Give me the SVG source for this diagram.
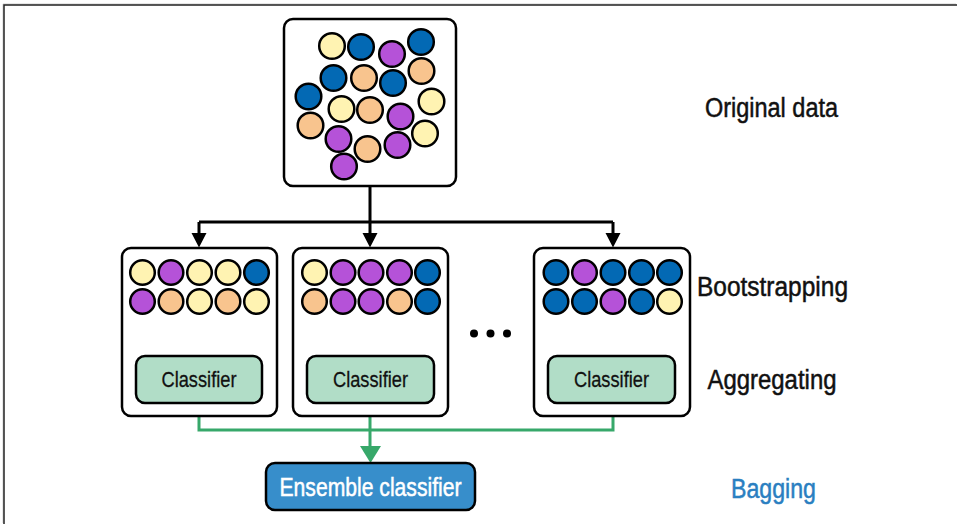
<svg xmlns="http://www.w3.org/2000/svg" width="957" height="524" viewBox="0 0 957 524">
<style>
.box{fill:#fff;stroke:#000;stroke-width:2.5}
.cls{fill:#b1ddc7;stroke:#000;stroke-width:2.5}
.c{stroke:#000;stroke-width:2.5}
.y{fill:#fff3b2}.b{fill:#0369b4}.p{fill:#b552d8}.o{fill:#f8c48e}
.lbl{font-family:"Liberation Sans",Arial,sans-serif;font-size:27px;fill:#111;stroke:#111;stroke-width:0.5}
.ct{font-family:"Liberation Sans",Arial,sans-serif;font-size:22px;fill:#111;stroke:#111;stroke-width:0.3;text-anchor:middle}
.blk{fill:none;stroke:#000;stroke-width:3}
.grn{fill:none;stroke:#37a86a;stroke-width:3}
</style>
<path d="M4,524 V5 H957" fill="none" stroke="#cfcfcf" stroke-width="1" transform="translate(-1,-1)"/>
<path d="M4,524 V5 H957" fill="none" stroke="#222" stroke-width="1.5"/>

<g id="connectors">
<path class="blk" d="M370,186 V222 M199,222 H613 M199,222 V236 M370,222 V236 M613,222 V236"/>
<path d="M191.5,233 L206.5,233 L199,247.5 z M362.5,233 L377.5,233 L370,247.5 z M605.5,233 L620.5,233 L613,247.5 z" fill="#000"/>
<path class="grn" d="M199,403 V430 H613 V403 M370,403 V448"/>
<path d="M360,446 L381,446 L370.5,463 z" fill="#37a86a"/>
</g>

<g id="original-data">
<rect class="box" x="284" y="19" width="172" height="167" rx="9"/>
<g class="c">
<circle class="y" cx="332" cy="46" r="12.8"/>
<circle class="b" cx="361" cy="47" r="12.8"/>
<circle class="p" cx="392" cy="54" r="12.8"/>
<circle class="b" cx="421" cy="42" r="12.8"/>
<circle class="b" cx="333.5" cy="78" r="12.8"/>
<circle class="o" cx="364" cy="78" r="12.8"/>
<circle class="b" cx="393" cy="83" r="12.8"/>
<circle class="o" cx="421.5" cy="71" r="12.8"/>
<circle class="b" cx="308.5" cy="96.5" r="12.8"/>
<circle class="y" cx="341.5" cy="109" r="12.8"/>
<circle class="o" cx="370" cy="110" r="12.8"/>
<circle class="y" cx="431.5" cy="101.5" r="12.8"/>
<circle class="o" cx="310.5" cy="125.5" r="12.8"/>
<circle class="p" cx="400.5" cy="116.5" r="12.8"/>
<circle class="p" cx="338.5" cy="139" r="12.8"/>
<circle class="o" cx="367.5" cy="149" r="12.8"/>
<circle class="p" cx="397.5" cy="145" r="12.8"/>
<circle class="y" cx="425" cy="133.5" r="12.8"/>
<circle class="p" cx="344" cy="166.5" r="12.8"/>
</g>
</g>

<g id="bag1">
<rect class="box" x="122" y="248" width="155" height="168" rx="9"/>
<g class="c">
<circle class="y" cx="142.5" cy="272.5" r="12.3"/>
<circle class="p" cx="171" cy="272.5" r="12.3"/>
<circle class="y" cx="199.5" cy="272.5" r="12.3"/>
<circle class="y" cx="228" cy="272.5" r="12.3"/>
<circle class="b" cx="256.5" cy="272.5" r="12.3"/>
<circle class="p" cx="142.5" cy="301.5" r="12.3"/>
<circle class="o" cx="171" cy="301.5" r="12.3"/>
<circle class="y" cx="199.5" cy="301.5" r="12.3"/>
<circle class="o" cx="228" cy="301.5" r="12.3"/>
<circle class="y" cx="256.5" cy="301.5" r="12.3"/>
</g>
<rect class="cls" x="136" y="356" width="126" height="47" rx="9"/>
<text class="ct" x="199" y="387" textLength="75" lengthAdjust="spacingAndGlyphs">Classifier</text>
</g>

<g id="bag2">
<rect class="box" x="293" y="248" width="155" height="168" rx="9"/>
<g class="c">
<circle class="y" cx="314.5" cy="272.5" r="12.3"/>
<circle class="p" cx="343" cy="272.5" r="12.3"/>
<circle class="p" cx="371" cy="272.5" r="12.3"/>
<circle class="p" cx="399.5" cy="272.5" r="12.3"/>
<circle class="b" cx="427.5" cy="272.5" r="12.3"/>
<circle class="o" cx="314.5" cy="301.5" r="12.3"/>
<circle class="p" cx="343" cy="301.5" r="12.3"/>
<circle class="p" cx="371" cy="301.5" r="12.3"/>
<circle class="o" cx="399.5" cy="301.5" r="12.3"/>
<circle class="b" cx="427.5" cy="301.5" r="12.3"/>
</g>
<rect class="cls" x="307" y="356" width="127" height="47" rx="9"/>
<text class="ct" x="370.5" y="387" textLength="75" lengthAdjust="spacingAndGlyphs">Classifier</text>
</g>

<g id="ellipsis">
<circle cx="474" cy="333.5" r="4" fill="#000"/>
<circle cx="490.5" cy="333.5" r="4" fill="#000"/>
<circle cx="507" cy="333.5" r="4" fill="#000"/>
</g>

<g id="bag3">
<rect class="box" x="534" y="248" width="156" height="168" rx="9"/>
<g class="c">
<circle class="b" cx="556" cy="272.5" r="12.3"/>
<circle class="p" cx="584.5" cy="272.5" r="12.3"/>
<circle class="b" cx="613" cy="272.5" r="12.3"/>
<circle class="b" cx="641.5" cy="272.5" r="12.3"/>
<circle class="b" cx="669.5" cy="272.5" r="12.3"/>
<circle class="b" cx="556" cy="301.5" r="12.3"/>
<circle class="b" cx="584.5" cy="301.5" r="12.3"/>
<circle class="p" cx="613" cy="301.5" r="12.3"/>
<circle class="b" cx="641.5" cy="301.5" r="12.3"/>
<circle class="y" cx="669.5" cy="301.5" r="12.3"/>
</g>
<rect class="cls" x="548" y="356" width="127" height="47" rx="9"/>
<text class="ct" x="611.5" y="387" textLength="75" lengthAdjust="spacingAndGlyphs">Classifier</text>
</g>

<g id="ensemble">
<rect x="266" y="463" width="209" height="47" rx="9" fill="#378ecb" stroke="#000" stroke-width="2.5"/>
<text x="370.5" y="496" font-family="'Liberation Sans',Arial,sans-serif" font-size="26" fill="#fff" stroke="#fff" stroke-width="0.5" text-anchor="middle" textLength="182" lengthAdjust="spacingAndGlyphs">Ensemble classifier</text>
</g>

<g id="labels">
<text class="lbl" x="705" y="117" textLength="133" lengthAdjust="spacingAndGlyphs">Original data</text>
<text class="lbl" x="697" y="295.5" textLength="151" lengthAdjust="spacingAndGlyphs">Bootstrapping</text>
<text class="lbl" x="707.5" y="389" textLength="129" lengthAdjust="spacingAndGlyphs">Aggregating</text>
<text class="lbl" x="731" y="497.5" textLength="85" lengthAdjust="spacingAndGlyphs" style="fill:#2a7fc1;stroke:#2a7fc1">Bagging</text>
</g>
</svg>
